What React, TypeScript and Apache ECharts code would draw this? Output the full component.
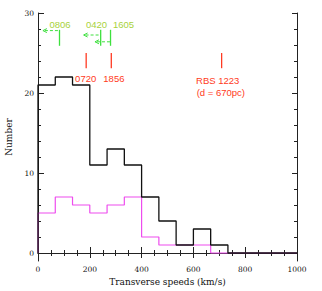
import React, { useEffect, useRef } from "react";
import * as echarts from "echarts";

// Histogram bins (km/s), 15 bins of 66.7 km/s
const binEdges = [0, 66.7, 133.3, 200, 266.7, 333.3, 400, 466.7, 533.3, 600, 666.7, 733.3, 800, 866.7, 933.3, 1000];
const allCounts = [21, 22, 21, 11, 13, 11, 7, 4, 1, 3, 1, 0, 0, 0, 0];
const subCounts = [5, 7, 6, 5, 6, 7, 2, 1, 1, 1, 0, 0, 0, 0, 0];

// Axis ticks
const xTicks = [0, 200, 400, 600, 800, 1000];
const yLabelTicks = [0, 10, 20, 30];
const yMinorTicks = [2, 4, 6, 8, 12, 14, 16, 18, 22, 24, 26, 28];

// Green annotations (upper limits with arrows)
const greenNames = ["0806", "0420", "1605"];
const greenSpeeds = [83, 242, 280];
const greenLabelSpeeds = [85, 226, 330];
const greenLabelLevel = 28.6;
const greenLineRange = [25.9, 27.9];
const greenArrowLevels = [27.8, 27.25, 26.4];
const greenArrowFrom = [19, 176, 220];

// Red annotations
const redSpeeds = [186, 283, 709];
const redLineRange = [23.1, 25.0];
const redLabels = ["0720", "1856", "RBS 1223", "(d = 670pc)"];
const redLabelSpeeds = [184, 293, 694, 706];
const redLabelLevels = [21.8, 21.8, 21.6, 20.1];

const GREEN_TEXT = "#a8d23c";
const GREEN_LINE = "#3ee03e";
const RED = "#ff3a22";
const SANS = "'Liberation Sans', Arial, sans-serif";
const SERIF = "'DejaVu Serif', serif";

function histData(counts: number[]) {
  const d: number[][] = [[binEdges[0], 0]];
  for (let i = 0; i < binEdges.length; i++) {
    d.push([binEdges[i], counts[Math.min(i, counts.length - 1)]]);
  }
  return d;
}

export default function App() {
  const ref = useRef<HTMLDivElement>(null);
  useEffect(() => {
    document.body.style.margin = "0";
    if (!ref.current) return;
    const chart = echarts.init(ref.current, null, { renderer: "svg" });
    const axisLine = { show: true, lineStyle: { color: "#222", width: 1 } };
    const labelStyle = { color: "#111", fontFamily: SERIF, fontSize: 7.5, formatter: (v: number) => String(v) };
    const option: any = {
      animation: false,
      backgroundColor: "#fff",
      grid: { left: 38, right: 25, top: 13, bottom: 30, containLabel: false, outerBoundsMode: "none" },
      xAxis: [
        {
          type: "value", position: "bottom", min: 0, max: 1000, interval: 200,
          axisLine,
          axisTick: { show: true, inside: true, length: 6, lineStyle: { color: "#222" } },
          minorTick: { show: true, splitNumber: 4, length: 3, lineStyle: { color: "#222" } },
          axisLabel: { ...labelStyle, margin: 4, customValues: xTicks },
          splitLine: { show: false },
          name: "Transverse speeds (km/s)", nameLocation: "middle", nameGap: 15,
          nameTextStyle: { color: "#111", fontFamily: SERIF, fontSize: 9 },
        },
        {
          type: "value", position: "top", min: 0, max: 1000, interval: 200,
          axisLine,
          axisTick: { show: true, inside: true, length: 5, lineStyle: { color: "#222" } },
          minorTick: { show: true, splitNumber: 4, length: 3, lineStyle: { color: "#222" } },
          axisLabel: { show: false },
          splitLine: { show: false },
        },
      ],
      yAxis: [
        {
          type: "value", position: "left", min: -1, max: 30,
          axisLine,
          axisTick: { show: true, inside: true, length: 6, customValues: yLabelTicks, lineStyle: { color: "#222" } },
          axisLabel: { ...labelStyle, margin: 4, customValues: yLabelTicks },
          splitLine: { show: false },
          name: "Number", nameLocation: "middle", nameGap: 24,
          nameTextStyle: { color: "#111", fontFamily: SERIF, fontSize: 9 },
        },
        {
          type: "value", position: "left", min: -1, max: 30,
          axisLine: { show: false },
          axisTick: { show: true, inside: true, length: 3, customValues: yMinorTicks, lineStyle: { color: "#222" } },
          axisLabel: { show: false },
          splitLine: { show: false },
        },
        {
          type: "value", position: "right", min: -1, max: 30,
          axisLine,
          axisTick: { show: true, inside: true, length: 5, customValues: yLabelTicks, lineStyle: { color: "#222" } },
          axisLabel: { show: false },
          splitLine: { show: false },
        },
        {
          type: "value", position: "right", min: -1, max: 30,
          axisLine: { show: false },
          axisTick: { show: true, inside: true, length: 3, customValues: yMinorTicks, lineStyle: { color: "#222" } },
          axisLabel: { show: false },
          splitLine: { show: false },
        },
      ],
      series: [
        {
          type: "line", step: "end", data: histData(subCounts), symbol: "none",
          lineStyle: { color: "#ee4cee", width: 1.2 }, z: 2,
        },
        {
          type: "line", step: "end", data: histData(allCounts), symbol: "none",
          lineStyle: { color: "#111", width: 1.3 }, z: 3,
        },
        {
          type: "custom", clip: false, z: 4,
          data: greenSpeeds.map((s, i) => [s, greenLineRange[0], greenLineRange[1], greenArrowLevels[i], greenArrowFrom[i], greenLabelSpeeds[i]]),
          renderItem: (params: any, api: any) => {
            const i = params.dataIndex;
            const x = api.value(0);
            const bot = api.coord([x, api.value(1)]);
            const top = api.coord([x, api.value(2)]);
            const aEnd = api.coord([x, api.value(3)]);
            const aStart = api.coord([api.value(4), api.value(3)]);
            const lab = api.coord([api.value(5), greenLabelLevel]);
            return {
              type: "group",
              children: [
                { type: "line", shape: { x1: top[0], y1: top[1], x2: bot[0], y2: bot[1] }, style: { stroke: GREEN_LINE, lineWidth: 1.3 } },
                { type: "line", shape: { x1: aStart[0] + 2, y1: aEnd[1], x2: aEnd[0], y2: aEnd[1] }, style: { stroke: GREEN_LINE, lineWidth: 1, lineDash: [3, 2] } },
                { type: "polyline", shape: { points: [[aStart[0] + 4, aEnd[1] - 2], [aStart[0], aEnd[1]], [aStart[0] + 4, aEnd[1] + 2]] }, style: { stroke: GREEN_LINE, lineWidth: 1, fill: "none" } },
                { type: "text", x: lab[0], y: lab[1], style: { text: greenNames[i], fill: GREEN_TEXT, fontSize: 9.5, fontFamily: SANS, align: "center", verticalAlign: "middle" } },
              ],
            };
          },
        },
        {
          type: "custom", clip: false, z: 4,
          data: redSpeeds.map((s) => [s, redLineRange[0], redLineRange[1]]),
          renderItem: (params: any, api: any) => {
            const x = api.value(0);
            const bot = api.coord([x, api.value(1)]);
            const top = api.coord([x, api.value(2)]);
            return { type: "line", shape: { x1: top[0], y1: top[1], x2: bot[0], y2: bot[1] }, style: { stroke: RED, lineWidth: 1.3 } };
          },
        },
        {
          type: "custom", clip: false, z: 4,
          data: redLabelSpeeds.map((s, i) => [s, redLabelLevels[i]]),
          renderItem: (params: any, api: any) => {
            const p = api.coord([api.value(0), api.value(1)]);
            return { type: "text", x: p[0], y: p[1], style: { text: redLabels[params.dataIndex], fill: RED, fontSize: 9.5, fontFamily: SANS, align: "center", verticalAlign: "middle" } };
          },
        },
      ],
    };
    chart.setOption(option);
    return () => chart.dispose();
  }, []);
  return <div ref={ref} style={{ position: "fixed", left: 0, top: 0, width: 322, height: 291 }} />;
}
